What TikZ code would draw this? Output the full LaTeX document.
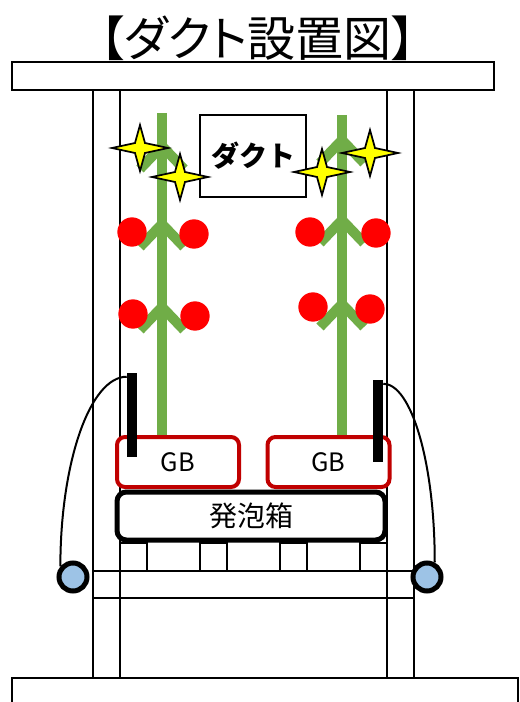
\documentclass[tikz,border=0pt]{standalone}
\usepackage{fontspec}
\newfontfamily\jpfont{Noto Sans CJK JP}
\newfontfamily\jptitle[RawFeature=+palt]{Noto Sans CJK JP}
\usepackage{xcolor}
\definecolor{StmD}{HTML}{70AD47}
\definecolor{TomF}{HTML}{FF0000}
\definecolor{GbD} {HTML}{C00000}
\definecolor{WhlF}{HTML}{9DC3E6}
\definecolor{SpkF}{HTML}{FFFF00}
\tikzset{
  FRM/.style={draw=black, line width=1.5pt},
  STM/.style={draw=StmD, line width=7.5pt},
  TOM/.style={circle, fill=TomF, inner sep=0pt, minimum size=22pt},
  DCT/.style={
    rectangle, draw=black, fill=white, line width=1.5pt,
    font=\jpfont\bfseries\fontsize{21}{21}\selectfont,
    minimum width=80pt, minimum height=61pt, inner sep=0pt
  },
  GBX/.style={
    rectangle, rounded corners=6pt, draw=GbD, fill=white,
    line width=3pt, font=\jpfont\fontsize{19}{19}\selectfont,
    minimum width=91.5pt, minimum height=37.5pt, inner sep=0pt
  },
  BOX/.style={
    rectangle, rounded corners=7pt, draw=black, fill=white,
    line width=3.75pt, font=\jpfont\fontsize{21}{21}\selectfont,
    minimum width=201pt, minimum height=36pt, inner sep=0pt
  },
  BAR/.style={
    rectangle, fill=black, inner sep=0pt,
    minimum width=7.5pt, minimum height=#1
  },
  WHL/.style={
    circle, draw=black, fill=WhlF, line width=3.75pt,
    inner sep=0pt, minimum size=21pt
  },
  CBL/.style={draw=black, line width=1.5pt},
  SPK/.pic={
    \draw[fill=SpkF, line width=1.3pt, line join=miter, miter limit=20]
      (-28,0)--(-5,-5)--(0,-23)--(5,-5)--(28,0)--(5,5)--(0,23)--(-5,5)--cycle;
  },
}

\begin{document}
\begin{tikzpicture}[x=0.75pt,y=-0.75pt]
\clip (0,0) rectangle (520,702);

%================ TITLE =================
\node[font=\jptitle\fontsize{36}{36}\selectfont] (ttl) at (258,38)
  {【ダクト設置図】};

%================ FRAME =================
\draw[FRM] (12,62) rectangle (494,90);
\draw[FRM] (12,678) rectangle (518,720);

\foreach \x in {93,120,387,414}
  \draw[FRM] (\x,90)--(\x,678);

\draw[FRM] (93,571)--(414,571);
\draw[FRM] (93,598)--(414,598);

\foreach \x in {120,200,280,360}
  \draw[FRM] (\x,543) rectangle ++(26.5,28);

%================ PLANTS =================
\draw[STM] (162,113)--(162,437);
\draw[STM] (342,115)--(342,437);

\foreach \x/\y in {162/146,162/224,162/307,342/140,342/220,342/304}
  \draw[STM] (\x-22,\y+23)--(\x,\y)--(\x+22,\y+23);

\foreach \n/\x/\y in {LA/132/232,LB/194/234,LC/133/314,LD/195/316,
                      RA/310/232,RB/376/233,RC/313/307,RD/370/309}
  \node[TOM] (tom\n) at (\x,\y) {};

%================ DUCT =================
\node[DCT] (dct) at (253,156) {ダクト};

\pic (spkA) at (140,148) {SPK};
\pic (spkB) at (180,177) {SPK};
\pic (spkC) at (322,172) {SPK};
\pic (spkD) at (370,153) {SPK};

%================ GROW BAGS =================
\node[GBX] (gbL) at (178,462)   {GB};
\node[GBX] (gbR) at (328.5,462) {GB};
\node[BOX] (hbx) at (251,516)   {発泡箱};

%================ HANGERS =================
\node[BAR=63pt]   (barL) at (132,415) {};
\node[BAR=61.5pt] (barR) at (378,421) {};

\node[WHL] (whlL) at (73,577)  {};
\node[WHL] (whlR) at (427,577) {};

% quarter-ellipse cords from bar tops down to the wheels
\draw[CBL] ([yshift=-3pt]barL.north west)
  .. controls +(-37,0) and +(0,-103) .. (whlL.140);
\draw[CBL] ([yshift=-3pt]barR.north east)
  .. controls +(28,0) and +(0,-100) .. (whlR.62);

\end{tikzpicture}
\end{document}
